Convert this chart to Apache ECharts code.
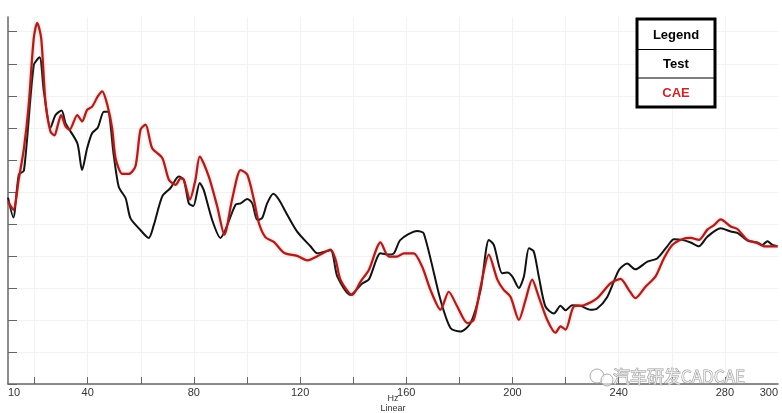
<!DOCTYPE html>
<html>
<head>
<meta charset="utf-8">
<script src="https://cdn.jsdelivr.net/npm/echarts@6/dist/echarts.min.js"></script>
<style>
html,body{margin:0;padding:0;background:#fff;}
#chart{width:782px;height:413px;}
</style>
</head>
<body>
<div id="chart"></div>
<script>
// Frequency (Hz) and level values
const testHz = [10,12,14.1,16,19.7,21.9,23.5,26,27.9,30.2,31.7,36.1,37.9,39.8,41.7,43.8,46.1,47.6,49.8,51.7,54.3,56.1,59.3,63,64.9,68.1,71.2,74.3,76.2,78.1,79.8,82.2,83.7,86.9,90,91.9,95.7,97.6,100.1,102,103.9,105.7,107.6,109.9,112,115.2,118.9,123.9,126.5,131.5,134,139,143.4,145.9,150.3,152.8,155.3,157.8,164.1,166.6,172.9,176.7,180.4,184.2,188,191.1,193,196.1,198,199.9,202.4,204.3,206.2,208,209.9,212.4,215.6,218.1,220,222.5,225.6,229.4,231.9,235.7,240.1,243.2,246.3,250.8,254.5,258.3,260.8,263.9,267.1,270.2,273.4,278.4,282.2,284.7,288.5,292.2,294.1,296,297.9,299.8];
const testVal = [29.1,26.0,32.7,33.3,49.8,51.0,45.7,40.0,42.0,42.7,40.7,37.6,33.4,36.8,39.2,40.0,42.5,42.5,35.8,30.8,29.0,25.9,24.3,22.8,24.8,29.3,30.6,32.4,31.9,28.2,27.8,31.4,30.3,25.6,22.8,24.1,28.0,28.2,28.9,28.2,25.6,25.9,28.2,29.7,28.8,26.4,23.8,21.5,20.4,20.9,16.8,13.9,15.7,16.3,20.4,20.2,20.4,22.5,23.9,23.5,13.1,8.7,8.2,9.5,14.7,22.5,21.7,17.3,17.4,16.8,15.0,16.8,21.2,20.7,16.8,12.1,11.0,12.2,11.5,12.3,12.2,11.6,11.8,13.6,17.8,18.8,17.9,19.1,19.6,21.5,22.6,22.5,22.1,21.5,23.0,24.3,23.8,23.6,22.4,22.1,21.7,22.3,21.7,21.5];
const caeHz = [10,12,14.1,16,17.8,19.7,21,22.5,24.1,26,27.5,28.8,30,31.7,33.2,36.1,37.9,39.8,41.7,43.8,45.5,47.4,49.2,50.5,53,55.5,58,59.9,61.8,64.3,68.1,70.6,73.1,75,76.2,78.5,80.6,82.2,85.6,88.8,91.5,94.4,97.6,100.1,102.6,104.5,107,110.1,113.9,118.9,122.7,127.7,131.5,133.4,135.2,139.6,142.8,145.9,150.3,153.4,156.6,159.1,162.8,166,169.1,172.9,176,179.2,183,185.4,188,191.1,194.3,196.7,199.3,202.4,204.9,207.4,209.9,213.1,216.2,218.1,220,223.1,226.9,231.9,236.9,240.7,243.8,246.3,250.1,253.9,257,260.2,263.9,267.1,270.2,273.4,275.9,278.4,282.2,284.7,288.5,292.2,294.7,299.8];
const caeVal = [28.5,27.2,32.1,36.8,43.6,54.0,56.4,54.0,44.1,39.4,38.8,40.5,42.0,40.2,39.7,42.0,41.0,42.8,43.3,44.9,45.7,43.6,40.0,35.3,32.8,32.8,34.0,39.7,40.5,36.8,35.3,31.9,31.1,32.1,31.9,28.8,31.9,35.5,32.4,27.7,23.3,28.8,33.4,32.7,28.8,25.1,22.9,22.2,20.5,20.0,19.3,20.2,21.0,19.4,16.3,13.9,16.0,17.8,22.1,19.9,19.9,20.4,20.4,18.3,14.7,11.6,14.4,12.1,9.5,10.0,15.2,20.2,16.3,14.7,13.6,10.0,13.1,16.3,13.6,10.0,8.0,9.0,8.5,12.1,12.3,13.4,15.7,16.4,14.7,13.4,15.2,16.8,19.6,21.7,22.6,22.8,22.5,24.1,24.8,25.7,24.6,24.2,22.5,22.0,21.5,21.5];

const xLabelValues = [10,40,80,120,160,200,240,280,300];
const xTickValues = [20,40,60,80,100,120,140,160,180,200,220,240,260,280];
const yTickValues = [0,5,10,15,20,25,30,35,40,45,50,55];
const seriesNames = ['Test','CAE'];
const legendTitle = 'Legend';
const xName = 'Hz\nLinear';
const watermark = '汽车研发CADCAE';

function zip(a,b){const n=Math.min(a.length,b.length);const r=[];for(let i=0;i<n;i++)r.push([a[i],b[i]]);return r;}

const chart = echarts.init(document.getElementById('chart'), null, {renderer:'canvas'});
const font = '"Liberation Sans", Arial, Helvetica, sans-serif';
chart.setOption({
  animation:false,
  backgroundColor:'#ffffff',
  grid:{left:8,right:4,top:17,bottom:29,containLabel:false,outerBoundsMode:'none'},
  xAxis:{
    type:'value',min:10,max:300,
    name:xName,nameLocation:'middle',nameGap:10,nameMoveOverlap:false,
    nameTextStyle:{fontSize:9,color:'#333',fontFamily:font,lineHeight:9.5,verticalAlign:'top'},
    axisLine:{lineStyle:{color:'#666',width:1.5}},
    axisTick:{inside:true,length:7,customValues:xTickValues,lineStyle:{color:'#666'}},
    axisLabel:{customValues:xLabelValues,fontSize:11,color:'#333',fontFamily:font,margin:3,alignMinLabel:'left',alignMaxLabel:'right'},
    splitLine:{show:true,lineStyle:{color:'#f2f2f2',width:1}}
  },
  yAxis:{
    type:'value',min:0,max:57.3,
    axisLine:{show:true,lineStyle:{color:'#666',width:1.5}},
    axisTick:{show:true,inside:true,length:9,customValues:yTickValues,lineStyle:{color:'#666'}},
    axisLabel:{show:false},
    splitLine:{show:true,lineStyle:{color:'#f2f2f2',width:1}}
  },
  series:[
    {name:seriesNames[0],type:'line',data:zip(testHz,testVal),showSymbol:false,smooth:0.25,
     lineStyle:{color:'#111111',width:2},z:3},
    {name:seriesNames[1],type:'line',data:zip(caeHz,caeVal),showSymbol:false,smooth:0.25,
     lineStyle:{color:'#a5211e',width:2.2,shadowColor:'rgba(230,90,90,0.5)',shadowBlur:3},z:4}
  ],
  graphic:[
    {type:'rect',shape:{x:637,y:19,width:78,height:88},style:{fill:'#fff',stroke:'#000',lineWidth:3},z:10},
    {type:'line',shape:{x1:637,y1:49.5,x2:715,y2:49.5},style:{stroke:'#000',lineWidth:1},z:11},
    {type:'line',shape:{x1:637,y1:78,x2:715,y2:78},style:{stroke:'#000',lineWidth:1},z:11},
    {type:'text',x:676,y:35,style:{text:legendTitle,fill:'#000',font:'bold 13px '+font,align:'center',verticalAlign:'middle'},z:12},
    {type:'text',x:676,y:64,style:{text:seriesNames[0],fill:'#000',font:'bold 13px '+font,align:'center',verticalAlign:'middle'},z:12},
    {type:'text',x:676,y:93,style:{text:seriesNames[1],fill:'#c62828',font:'bold 13px '+font,align:'center',verticalAlign:'middle'},z:12},
    {type:'circle',shape:{cx:597,cy:376,r:7},style:{fill:'rgba(255,255,255,0.6)',stroke:'#aaa',lineWidth:1},z:12},
    {type:'circle',shape:{cx:607,cy:380,r:6},style:{fill:'rgba(255,255,255,0.6)',stroke:'#aaa',lineWidth:1},z:12},
    {type:'text',x:613,y:377,style:{text:watermark,fill:'rgba(255,255,255,0.7)',stroke:'#9a9a9a',lineWidth:1,font:'17px "Noto Sans CJK SC", sans-serif',verticalAlign:'middle'},z:12}
  ]
});
</script>
</body>
</html>
